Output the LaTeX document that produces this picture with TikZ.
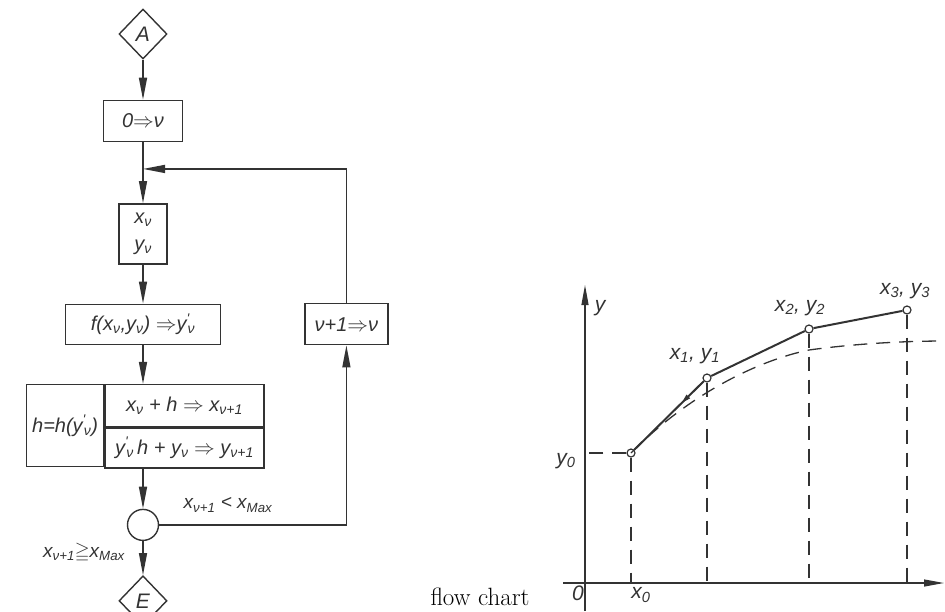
\documentclass[tikz,border=0pt]{standalone}
\usepackage{amssymb}
\usepackage{fontspec}
\newfontfamily\lettering{Liberation Sans}
\usetikzlibrary{positioning,arrows.meta,shapes.geometric,calc}
\colorlet{ink}{black!80}
\newcommand{\ix}[1]{\textsubscript{#1}}
\newcommand{\pr}{\textsuperscript{'}\kern-0.1em}
\tikzset{
  box/.style={draw=ink, line width=1.4pt, inner sep=0pt, align=center, text=ink, font=\lettering\itshape\fontsize{20}{27}\selectfont},
  dia/.style={draw=ink, line width=1.4pt, diamond, inner sep=0pt, minimum width=48pt, minimum height=50pt, text=ink, font=\lettering\itshape\fontsize{21}{25}\selectfont},
  joint/.style={draw=ink, line width=1.4pt, circle, minimum size=31pt, inner sep=0pt},
  arr/.style={-{Triangle[length=22pt,width=8pt]}, line width=1.4pt, draw=ink},
  lbl/.style={text=ink, inner sep=1pt, font=\lettering\itshape\fontsize{19}{23}\selectfont},
  knot/.style={draw=ink, circle, fill=white, minimum size=8pt, inner sep=0pt, line width=1.2pt},
  dsh/.style={draw=ink, line width=1.3pt, dash pattern=on 14pt off 9pt},
}
\begin{document}
\begin{tikzpicture}[x=1pt, y=-1pt]
\useasboundingbox (0,0) rectangle (945,611);
% flow chart
\node[dia] (dA) at (143,34) {A};
\node[box, below=40pt of dA, minimum width=79pt, minimum height=41pt] (box0) {0$\Rightarrow$ν};
\node[box, below=61pt of box0, minimum width=48pt, minimum height=60pt] (xy) {x\ix{ν}\\y\ix{ν}};
\node[box, below=39pt of xy, minimum width=155pt, minimum height=40pt] (f) {f(x\ix{ν},y\ix{ν}) $\Rightarrow$y\pr\ix{ν}};
\node[box, below=39pt of f, xshift=41.5pt, minimum width=159pt, minimum height=42pt] (xcell) {x\ix{ν} + h $\Rightarrow$ x\ix{ν+1}};
\node[box, anchor=north east, minimum width=77pt, minimum height=82pt] (hcell) at (xcell.north west) {h=h(y\pr\ix{ν})};
\node[box, anchor=north, minimum width=159pt, minimum height=40pt] (ycell) at (xcell.south) {y\pr\ix{ν}\,h + y\ix{ν} $\Rightarrow$ y\ix{ν+1}};
\coordinate (jt) at (ycell.south -| f);
\node[joint, below=40pt of jt] (jn) {};
\node[dia, below=34pt of jn] (dE) {E};
\node[box, right=83pt of f, minimum width=83pt, minimum height=41pt] (inc) {ν+1$\Rightarrow$ν};
\coordinate (join) at ($(box0.south)!0.44!(xy.north)$);
\draw[arr] (dA) -- (box0);
\draw[arr] (box0) -- (xy);
\draw[arr] (xy) -- (f);
\draw[arr] (f.south) -- (f.south |- xcell.north);
\draw[arr] (jt) -- (jn);
\draw[arr] (jn) -- (dE);
\draw[arr] (jn.east) -| (inc.south);
\draw[arr] (inc.north) |- (join);
\node[lbl] (less) at (228,505) {x\ix{ν+1} < x\ix{Max}};
\node[lbl] (geq) at (84,553) {x\ix{ν+1}$\geqq$x\ix{Max}};
\node[font=\fontsize{25}{30}\selectfont, anchor=base] (cap) at (480,605) {flow chart};
% graph
\coordinate (o) at (585,583);
\coordinate (ybot) at (585,611);
\coordinate (ytop) at (585,285);
\coordinate (xl) at (563,583);
\coordinate (xr) at (944,583);
\draw[ink, line width=1.2pt, -{Triangle[length=20pt,width=7pt]}] (ybot) -- (ytop);
\draw[ink, line width=1.2pt, -{Triangle[length=20pt,width=7pt]}] (xl) -- (xr);
\node[knot] (p0) at (631,453) {};
\node[knot] (p1) at (707,378) {};
\node[knot] (p2) at (809,329) {};
\node[knot] (p3) at (907,310) {};
\coordinate (rend) at (945,341);
\draw[dsh] (p0.center) .. controls (690,393) and (760,360) .. (809,350) .. controls (860,343) and (910,341) .. (rend);
\draw[ink, line width=2pt] (p0) -- (p1) -- (p2) -- (p3);
\draw[ink, line width=1pt, -{Triangle[length=9pt,width=5pt]}] (p1) -- ($(p1)!0.33!(p0)$);
\foreach \p in {p0,p1,p2,p3} \draw[dsh] (\p.south) -- (\p |- o);
\draw[dsh] (p0.west) -- (p0 -| o);
\node[lbl, font=\lettering\itshape\fontsize{21}{25}\selectfont] (ly) at (600,308) {y};
\node[lbl, font=\lettering\itshape\fontsize{21}{25}\selectfont] (ly0) at (566,461) {y\ix{0}};
\node[lbl, font=\lettering\itshape\fontsize{21}{25}\selectfont] (lo) at (578,593) {0};
\node[lbl, font=\lettering\itshape\fontsize{21}{25}\selectfont] (lx0) at (641,595) {x\ix{0}};
\node[lbl, font=\lettering\itshape\fontsize{21}{25}\selectfont] (l1) at (695,356) {x\ix{1}, y\ix{1}};
\node[lbl, font=\lettering\itshape\fontsize{21}{25}\selectfont] (l2) at (800,308) {x\ix{2}, y\ix{2}};
\node[lbl, font=\lettering\itshape\fontsize{21}{25}\selectfont] (l3) at (905,291) {x\ix{3}, y\ix{3}};
\end{tikzpicture}
\end{document}
